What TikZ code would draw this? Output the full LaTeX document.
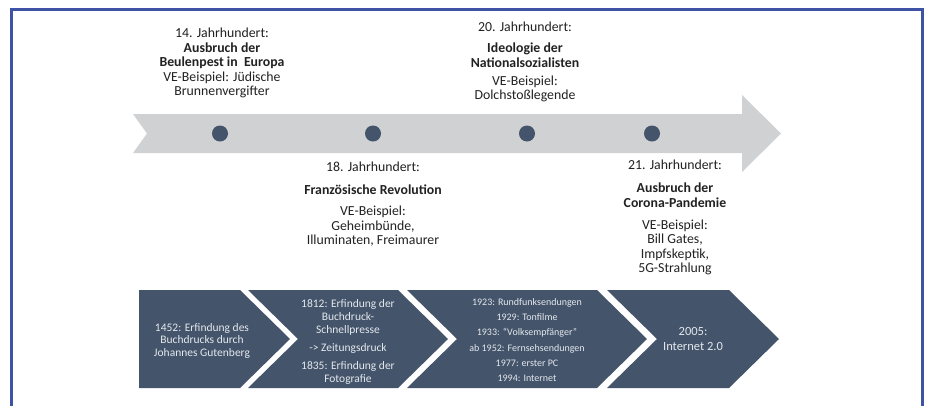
\documentclass[tikz,border=0pt]{standalone}
\usepackage{fontspec}
\setmainfont{Carlito}
\definecolor{frameblue}{RGB}{62,82,166}
\definecolor{bandgray}{RGB}{208,209,211}
\definecolor{slate}{RGB}{68,84,106}
\definecolor{inkdark}{RGB}{34,34,34}
\definecolor{boxink}{RGB}{228,232,238}
\begin{document}
\begin{tikzpicture}[x=1pt,y=-1pt,
  every node/.style={inner sep=0pt, outer sep=0pt},
  % multi-line nodes sit on the baseline of their last line
  toptext/.style={align=center, text=inkdark, anchor=base,
    font=\fontsize{13.8}{14.5}\selectfont},
  boxtext/.style={align=center, text=boxink, anchor=base,
    font=\fontsize{11.5}{13}\selectfont},
  smalltext/.style={align=center, text=boxink, anchor=base,
    font=\fontsize{10}{15.2}\selectfont},
  bigtext/.style={align=center, text=boxink, anchor=base,
    font=\fontsize{12.5}{14.5}\selectfont},
  eventdot/.style={circle, fill=slate, minimum size=16pt}]

\useasboundingbox (0,0) rectangle (927,405);
\fill[white] (0,0) rectangle (927,405);

% outer frame (open at the bottom)
\draw[frameblue, line width=2.8pt] (11.5,412) -- (11.5,9.5) -- (922.5,9.5) -- (922.5,412);

% grey timeline arrow
\fill[bandgray] (133,114) -- (742,114) -- (742,95) -- (781,133.5) -- (742,172)
  -- (742,153) -- (133,153) -- (147,133.5) -- cycle;

% event markers
\node[eventdot] (d1) at (220,133.5) {};
\node[eventdot] (d2) at (373,133.5) {};
\node[eventdot] (d3) at (527,133.5) {};
\node[eventdot] (d4) at (652,133.5) {};

% event descriptions
\node[toptext] (e14) at (222,95.5) {14. Jahrhundert:\\
  \textbf{Ausbruch der}\\ \textbf{Beulenpest in\ \ Europa}\\
  VE-Beispiel: Jüdische\\ Brunnenvergifter};
\node[toptext] (e18) at (373,244.5) {18. Jahrhundert:\\[8.5pt]
  \textbf{Französische Revolution}\\[6.5pt]
  VE-Beispiel:\\ Geheimbünde,\\ Illuminaten, Freimaurer};
\node[toptext] (e20) at (525,99.5) {20. Jahrhundert:\\[6.5pt]
  \textbf{Ideologie der}\\ \textbf{Nationalsozialisten}\\[3.5pt]
  VE-Beispiel:\\ Dolchstoßlegende};
\node[toptext] (e21) at (675,272.5) {21. Jahrhundert:\\[8.5pt]
  \textbf{Ausbruch der}\\ \textbf{Corona-Pandemie}\\[7.5pt]
  VE-Beispiel:\\ Bill Gates,\\ Impfskeptik,\\ 5G-Strahlung};

% media history chevrons
\fill[slate] (139,290) -- (240,290) -- (290,339) -- (240,388) -- (139,388) -- cycle;
\fill[slate] (248,290) -- (398,290) -- (448,339) -- (398,388) -- (248,388) -- (298,339) -- cycle;
\fill[slate] (407,290) -- (597,290) -- (647,339) -- (597,388) -- (407,388) -- (457,339) -- cycle;
\fill[slate] (607,290) -- (729,290) -- (779,339) -- (729,388) -- (607,388) -- (657,339) -- cycle;

\node[boxtext, font=\fontsize{11.5}{12.5}\selectfont] (m1) at (202,356) {1452: Erfindung des\\
  Buchdrucks durch\\ Johannes Gutenberg};
\node[boxtext] (m2) at (348,382) {1812: Erfindung der\\ Buchdruck-\\ Schnellpresse\\[5pt]
  -> Zeitungsdruck\\[5pt] 1835: Erfindung der\\ Fotografie};
\node[smalltext] (m3) at (527,381.5) {1923: Rundfunksendungen\\ 1929: Tonfilme\\
  1933: “Volksempfänger”\\ ab 1952: Fernsehsendungen\\ 1977: erster PC\\ 1994: Internet};
\node[bigtext] (m4) at (693,350) {2005:\\ Internet 2.0};

\end{tikzpicture}
\end{document}
